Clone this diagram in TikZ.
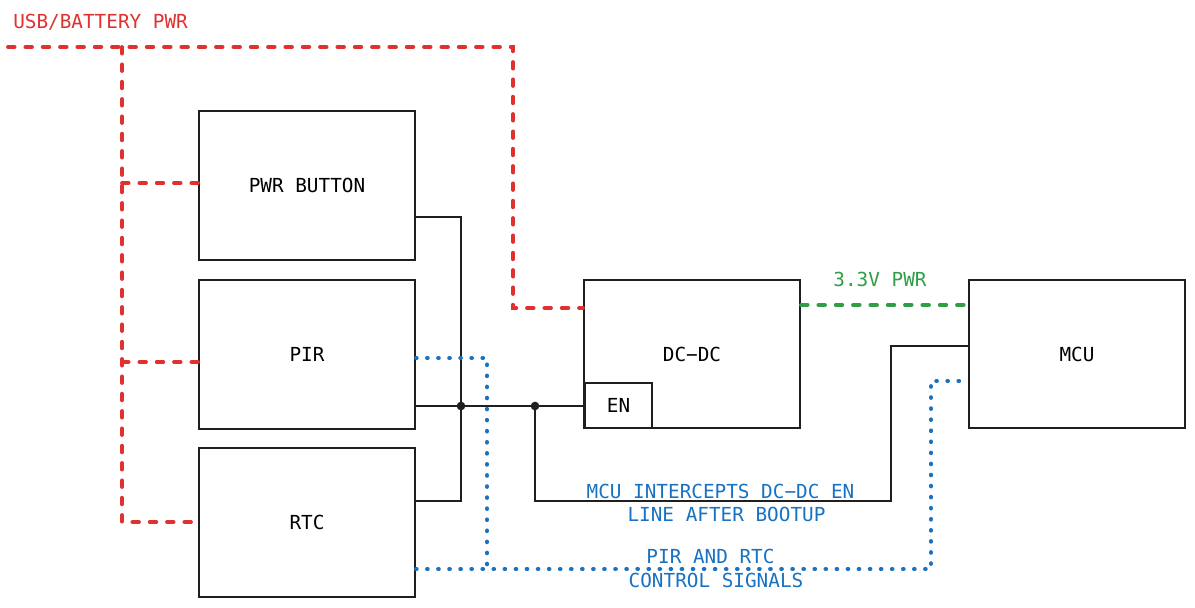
\documentclass[tikz,border=0pt]{standalone}
\usepackage{fontspec}
\setmonofont{DejaVu Sans Mono}
\begin{document}
\begin{tikzpicture}[x=0.75pt,y=-0.75pt,
  every node/.style={font=\ttfamily\fontsize{14.5}{18}\selectfont, inner sep=0pt},
  blk/.style={draw=black!88, line width=1.5pt, minimum width=162pt, minimum height=111.5pt},
  wire/.style={draw=black!88, line width=1.1pt},
  redline/.style={draw={rgb,255:red,224;green,49;blue,49}, line width=2.8pt, dash pattern=on 5pt off 8pt, line cap=round},
  greenline/.style={draw={rgb,255:red,47;green,158;blue,68}, line width=2.8pt, dash pattern=on 5pt off 8pt, line cap=round},
  blueline/.style={draw={rgb,255:red,25;green,113;blue,194}, line width=3pt, dash pattern=on 0.5pt off 7.8pt, line cap=round},
  redtxt/.style={text={rgb,255:red,224;green,49;blue,49}},
  greentxt/.style={text={rgb,255:red,47;green,158;blue,68}},
  bluetxt/.style={text={rgb,255:red,25;green,113;blue,194}},
  dotn/.style={circle, fill=black!88, minimum size=6.5pt}
]
\useasboundingbox (0,0) rectangle (1195,607);
% boxes
\node[blk] (pwr) at (307,185.5) {PWR BUTTON};
\node[blk] (pir) at (307,354.5) {PIR};
\node[blk] (rtc) at (307,522.5) {RTC};
\node[blk] (dcdc) at (692,354) {};
\node at (692,354) {DC−DC};
\node[blk] (mcu) at (1077,354) {MCU};
\node[draw=black!88, line width=1.5pt, minimum width=50pt, minimum height=33.5pt] (en) at (618.5,405.5) {EN};
% labels
\node[redtxt, anchor=west] (lblusb) at (13,22) {USB/BATTERY PWR};
\node[greentxt] (lbl33) at (880,279) {3.3V PWR};
\node[bluetxt] (lblmcu1) at (720.5,491) {MCU INTERCEPTS DC−DC EN};
\node[bluetxt] (lblmcu2) at (726.5,514.5) {LINE AFTER BOOTUP};
\node[bluetxt] (lblpir1) at (710.5,556.5) {PIR AND RTC};
\node[bluetxt] (lblpir2) at (716,580) {CONTROL SIGNALS};
% coordinates
\coordinate (rs) at (8,47);
\coordinate (rt) at (513,47);
\coordinate (rv) at (122,47);
\coordinate (j1) at (461,406);
\coordinate (j2) at (535,406);
\node[dotn] (d1) at (j1) {};
\node[dotn] (d2) at (j2) {};
% red power lines
\draw[redline] (rs) -- (rt) -- (513,308) -- (dcdc.west |- 0,308);
\draw[redline] (rv) -- (122,522) -- (rtc.west |- 0,522);
\draw[redline] (122,183) -- (pwr.west |- 0,183);
\draw[redline] (122,362) -- (pir.west |- 0,362);
% green
\draw[greenline] (dcdc.east |- 0,305) -- (mcu.west |- 0,305);
% black wires
\draw[wire] (pwr.east |- 0,217) -- (461,217) -- (461,501) -- (rtc.east |- 0,501);
\draw[wire] (pir.east |- 0,406) -- (en.west |- 0,406);
\draw[wire] (j2) -- (535,501) -- (891,501) -- (891,346) -- (mcu.west |- 0,346);
% blue dotted
\draw[blueline] (pir.east |- 0,358) -- (487,358) -- (487,569);
\draw[blueline] (rtc.east |- 0,569) -- (931,569) -- (931,381) -- (mcu.west |- 0,381);
\end{tikzpicture}
\end{document}
